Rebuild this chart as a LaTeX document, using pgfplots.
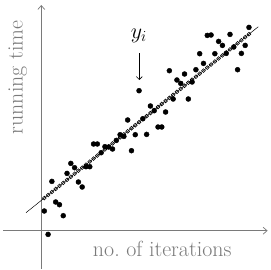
\documentclass[border=0pt]{standalone}
\usepackage{fix-cm}
\usepackage{pgfplots}
\pgfplotsset{compat=1.18}
\usepackage{pgfplotstable}
\usetikzlibrary{arrows.meta}
\definecolor{axgray}{RGB}{122,122,122}

\pgfplotstableread{
x y yhat
3.00 19.7 32.67
6.79 -3.7 35.70
10.58 49.3 38.74
14.37 28.7 41.77
18.16 26.0 44.81
21.95 15.0 47.84
25.74 57.3 50.87
29.53 67.3 53.91
33.32 63.0 56.94
37.11 48.7 59.98
40.90 43.7 63.01
44.69 64.0 66.04
48.48 64.0 69.08
52.27 86.7 72.11
56.06 86.7 75.15
59.85 78.0 78.18
63.64 84.0 81.21
67.43 83.7 84.25
71.22 81.7 87.28
75.01 90.3 90.32
78.80 96.0 93.35
82.59 94.3 96.38
86.38 110.7 99.42
90.17 80.0 102.45
93.96 96.0 105.49
97.75 140.0 108.52
101.54 112.0 111.55
105.33 96.3 114.59
109.12 124.7 117.62
112.91 120.0 120.66
116.70 103.7 123.69
120.49 103.7 126.72
124.28 118.7 129.76
128.07 160.0 132.79
131.86 131.7 135.83
135.65 150.7 138.86
139.44 147.3 141.89
143.23 156.7 144.93
147.02 131.7 147.96
150.81 148.7 151.00
154.60 161.0 154.03
158.39 177.0 157.06
162.18 167.3 160.10
165.97 195.3 163.13
169.76 195.7 166.17
173.55 177.0 169.20
177.34 189.3 172.23
181.13 185.3 175.27
184.92 177.3 178.30
188.71 196.3 181.34
192.50 183.7 184.37
196.29 161.0 187.40
200.08 177.3 190.44
203.87 185.3 193.47
207.66 203.3 196.51
}\data

\begin{document}
\begin{tikzpicture}
\begin{axis}[
  x=1bp, y=1bp,
  xmin=-38.3, xmax=226.3,
  ymin=-37.8, ymax=225.7,
  axis lines=middle,
  axis line style={draw=axgray, line width=0.7pt, -{Straight Barb[length=4pt,width=7pt]}},
  xtick=\empty, ytick=\empty,
  clip=false,
]
\path (axis cs:-41.3,-39.3) rectangle (axis cs:229.7,230.7);
\addplot[black, line width=0.5pt] coordinates {(-15.33,18) (217,204)};
\addplot[only marks, mark=o, mark size=1.9pt, mark options={fill=white, draw=black, line width=0.6pt}] table[x=x, y=yhat] {\data};
\addplot[only marks, mark=*, mark size=2.5pt, black] table[x=x, y=y] {\data};
\draw[-{Straight Barb[length=3pt,width=6pt]}, line width=0.6pt] (axis cs:98,177.3) -- (axis cs:98,150.7);
\node[anchor=base, inner sep=0pt] at (axis cs:97.5,192.3) {\fontsize{22}{26}\selectfont $y_i$};
\node[anchor=base, inner sep=0pt, text=axgray] at (axis cs:120.9,-25.3) {\fontsize{22}{26}\selectfont no.\ of iterations};
\node[anchor=base, inner sep=0pt, rotate=90, text=axgray] at (axis cs:-18.6,153.3) {\fontsize{22}{26}\selectfont running time};
\end{axis}
\end{tikzpicture}
\end{document}
